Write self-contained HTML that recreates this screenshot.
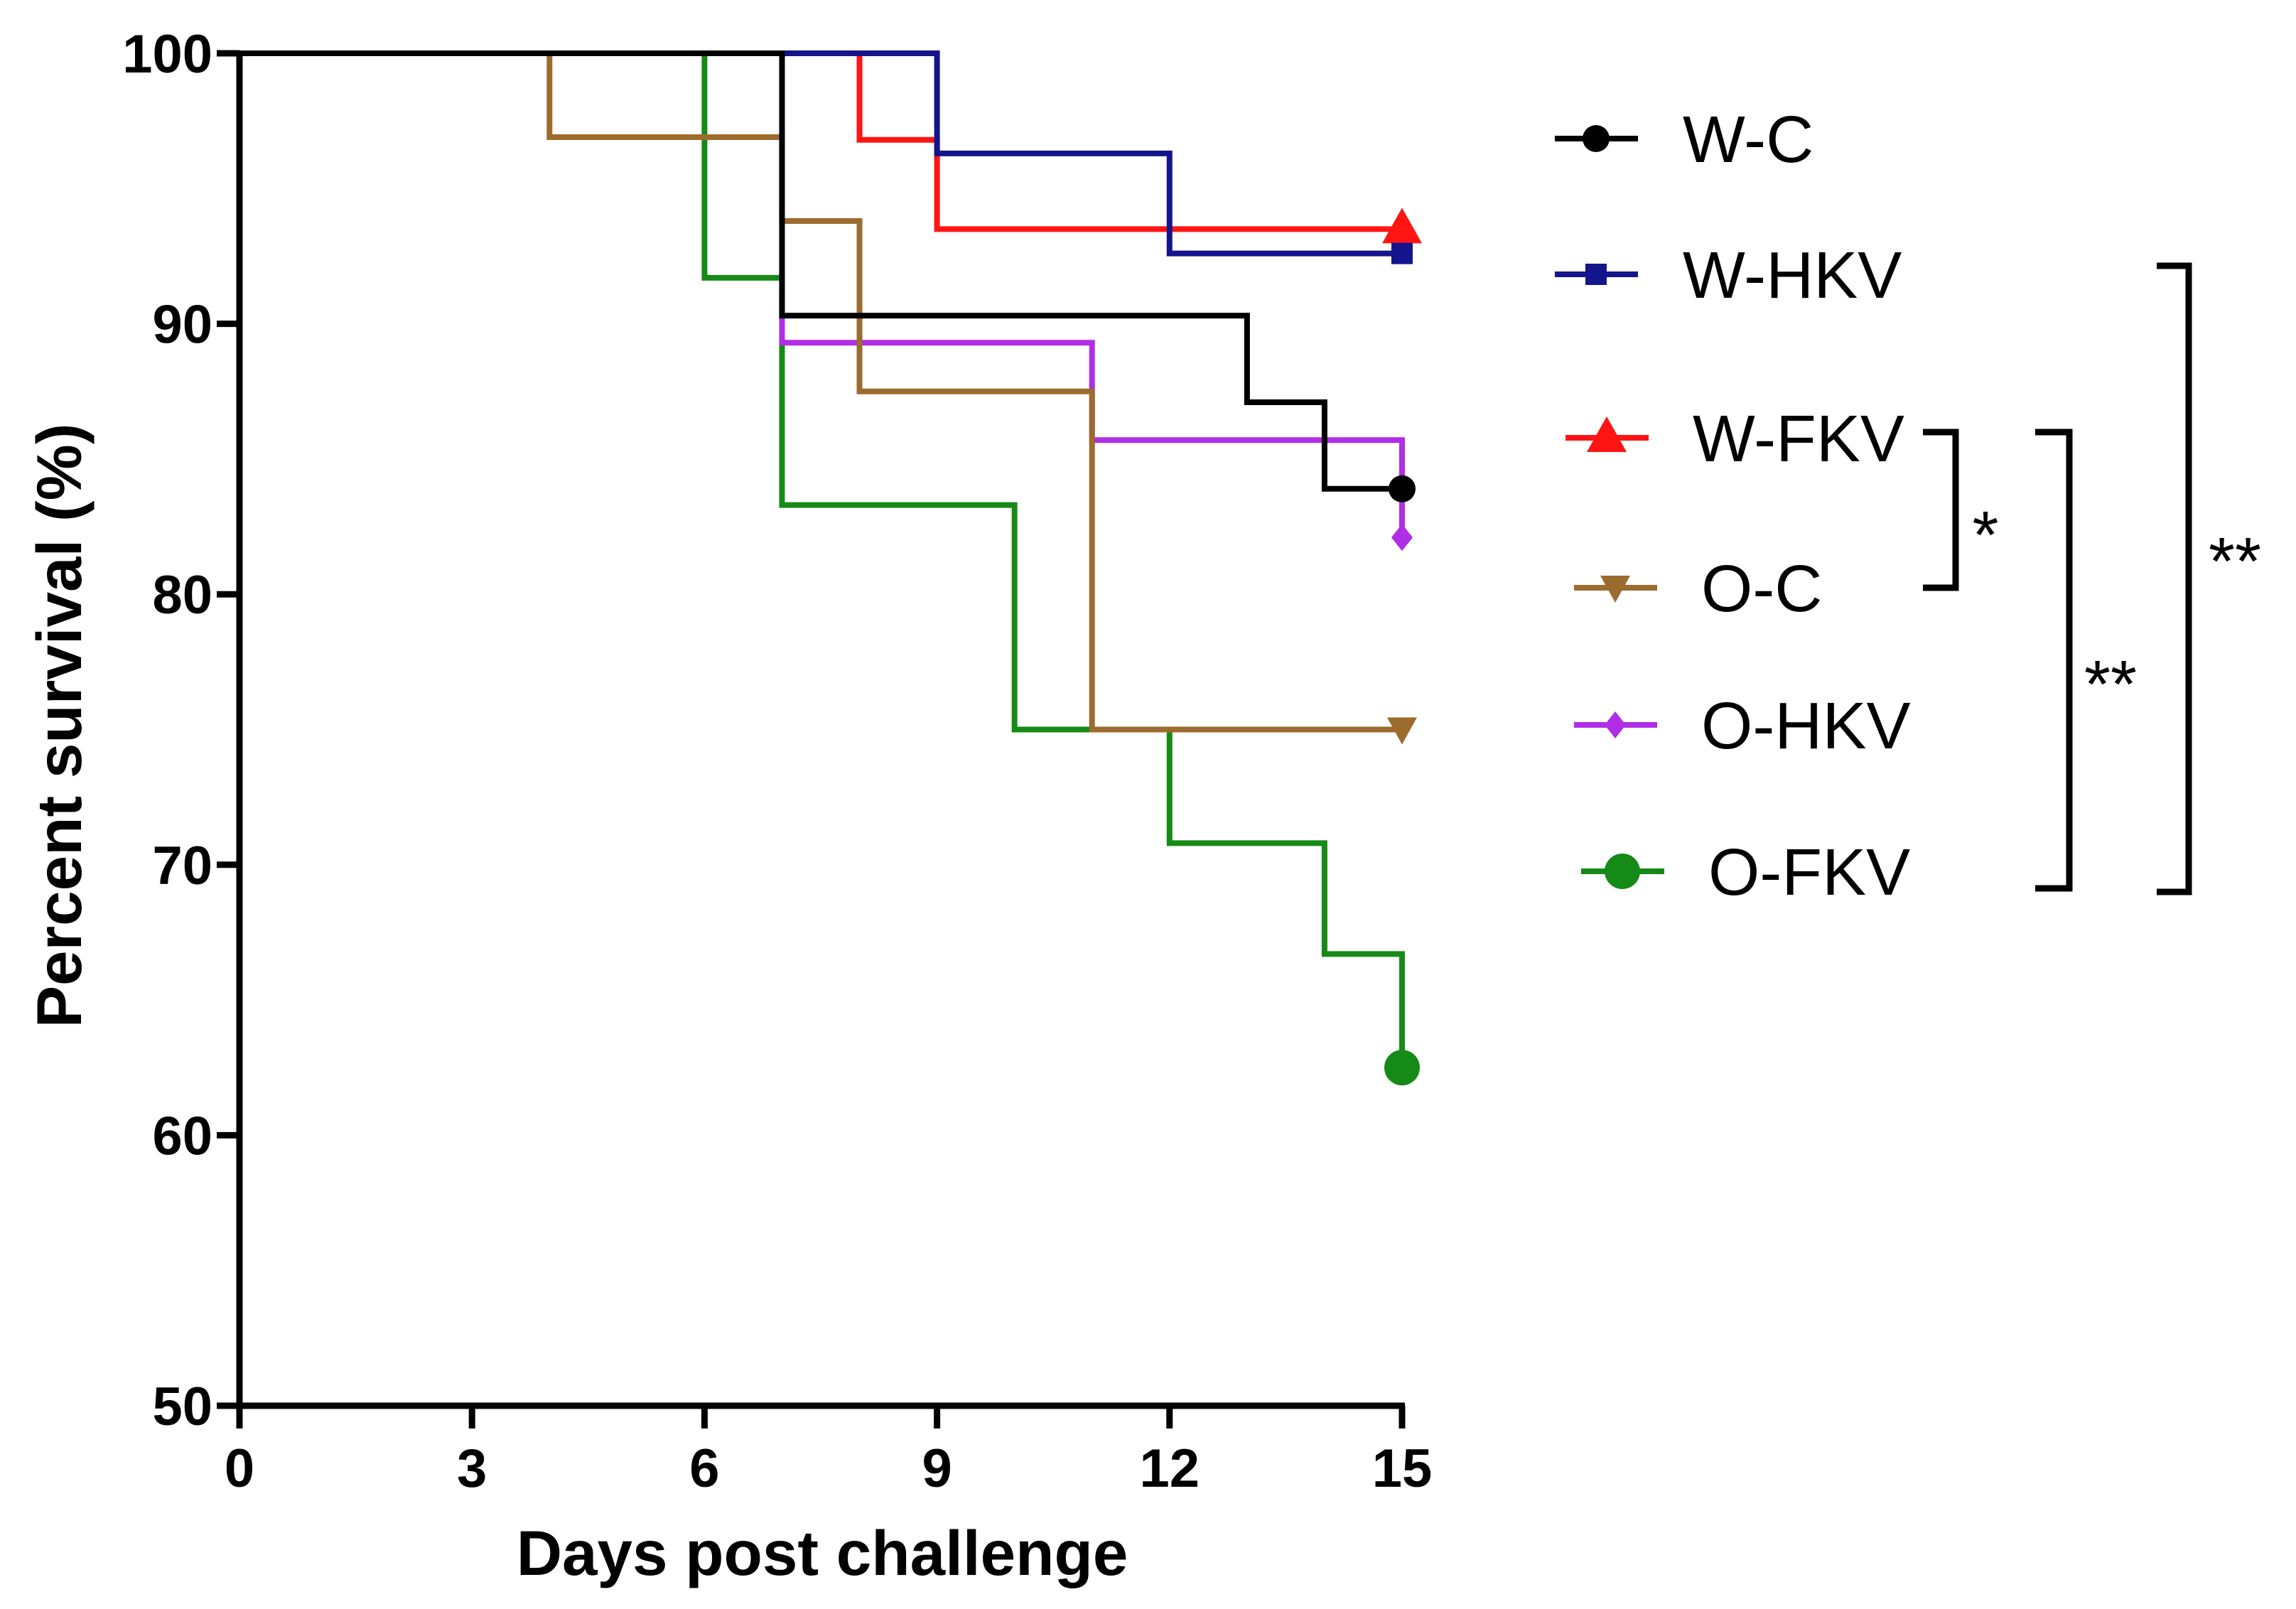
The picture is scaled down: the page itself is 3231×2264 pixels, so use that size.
<!DOCTYPE html>
<html><head><meta charset="utf-8"><style>
html,body{margin:0;padding:0;background:#fff;}
svg{display:block;}
text{font-family:"Liberation Sans",Arial,sans-serif;}
</style></head><body>
<svg id="chart" width="3231" height="2264" viewBox="0 0 3231 2264" xmlns="http://www.w3.org/2000/svg">
<g id="series"></g>
<g id="axes"></g>
<g id="legend"></g>
<g id="sig"></g>
</svg>
<script>
const xTicks = [0,3,6,9,12,15];
const yTicks = [50,60,70,80,90,100];
const seriesNames = ["W-C","W-HKV","W-FKV","O-C","O-HKV","O-FKV"];
const seriesColors = ["#000000","#14148c","#ff1414","#9c6b2e","#b02ee6","#168a16"];
const wcDays = [0,7,13,14,15];
const wcVals = [100,90.3,87.1,83.9,83.9];
const whkvDays = [0,9,12,15];
const whkvVals = [100,96.3,92.6,92.6];
const wfkvDays = [0,8,9,15];
const wfkvVals = [100,96.8,93.5,93.5];
const ocDays = [0,4,7,8,11,15];
const ocVals = [100,96.9,93.8,87.5,75,75];
const ohkvDays = [0,7,11,15];
const ohkvVals = [100,89.3,85.7,82.1];
const ofkvDays = [0,6,7,10,12,14,15];
const ofkvVals = [100,91.7,83.3,75,70.8,66.7,62.5];

const NS="http://www.w3.org/2000/svg";
const X0=337,X1=1973,Y0=1978,Y1=75;
const xS=d=>X0+(d-0)/(15-0)*(X1-X0);
const yS=v=>Y0-(v-50)/(100-50)*(Y0-Y1);
function mk(tag,attrs,parent){const e=document.createElementNS(NS,tag);for(const k in attrs)e.setAttribute(k,attrs[k]);parent.appendChild(e);return e;}

const sG=document.getElementById('series');
const allDays=[wcDays,whkvDays,wfkvDays,ocDays,ohkvDays,ofkvDays];
const allVals=[wcVals,whkvVals,wfkvVals,ocVals,ohkvVals,ofkvVals];
const markerTypes=["circle","square","triangle","tridown","diamond","bigcircle"];
function marker(type,cx,cy,color,parent){
  let e;
  if(type==="circle") e=mk('circle',{cx:cx,cy:cy,r:19,fill:color},parent);
  else if(type==="bigcircle") e=mk('circle',{cx:cx,cy:cy,r:25,fill:color},parent);
  else if(type==="square") e=mk('rect',{x:cx-15,y:cy-15,width:30,height:30,fill:color},parent);
  else if(type==="triangle") e=mk('polygon',{points:`${cx},${cy-30} ${cx+28},${cy+20} ${cx-28},${cy+20}`,fill:color},parent);
  else if(type==="tridown") e=mk('polygon',{points:`${cx-21},${cy-17} ${cx+21},${cy-17} ${cx},${cy+21}`,fill:color},parent);
  else e=mk('polygon',{points:`${cx},${cy-19} ${cx+15},${cy} ${cx},${cy+19} ${cx-15},${cy}`,fill:color},parent);
  return e;
}
const order=[5,4,3,2,1,0];
order.forEach(i=>{
  const d=allDays[i],v=allVals[i];
  let p=`M${xS(d[0])},${yS(v[0])}`;
  for(let k=1;k<d.length;k++){p+=` H${xS(d[k])} V${yS(v[k])}`;}
  const path=mk('path',{d:p,fill:'none',stroke:seriesColors[i],'stroke-width':8},sG);
  
  
});
order.forEach(i=>{
  const d=allDays[i],v=allVals[i];
  const m=marker(markerTypes[i],xS(d[d.length-1]),yS(v[v.length-1]),seriesColors[i],sG);
  
  
});

const aG=document.getElementById('axes');
const ya=mk('line',{x1:X0,y1:Y1-4,x2:X0,y2:Y0+4,stroke:'#000','stroke-width':9},aG);


const xa=mk('line',{x1:X0-4,y1:Y0,x2:X1+4,y2:Y0,stroke:'#000','stroke-width':9},aG);


yTicks.forEach(t=>{
  const l=mk('line',{x1:X0-32,y1:yS(t),x2:X0,y2:yS(t),stroke:'#000','stroke-width':9},aG);
  
  
  const tx=mk('text',{x:X0-38,y:yS(t)+27,'text-anchor':'end','font-size':76,'font-weight':'bold'},aG);
  tx.textContent=t;
  
  
});
xTicks.forEach(t=>{
  const l=mk('line',{x1:xS(t),y1:Y0,x2:xS(t),y2:Y0+32,stroke:'#000','stroke-width':9},aG);
  
  
  const tx=mk('text',{x:xS(t),y:Y0+114,'text-anchor':'middle','font-size':76,'font-weight':'bold'},aG);
  tx.textContent=t;
  
  
});
const xt=mk('text',{x:1157,y:2216,'text-anchor':'middle','font-size':89,'font-weight':'bold'},aG);
xt.textContent='Days post challenge';


const yt=mk('text',{x:0,y:0,'text-anchor':'middle','font-size':89,'font-weight':'bold',transform:'translate(114,1021) rotate(-90)'},aG);
yt.textContent='Percent survival (%)';



const lG=document.getElementById('legend');
const legY=[195,386,616,827,1020,1226];
const legLineX=[2188,2188,2203,2215,2215,2225];
const legTextX=[2368,2368,2382,2394,2394,2404];
seriesNames.forEach((n,i)=>{
  const g=mk('g',{},lG);
  
  
  mk('line',{x1:legLineX[i],y1:legY[i],x2:legLineX[i]+117,y2:legY[i],stroke:seriesColors[i],'stroke-width':8},g);
  marker(markerTypes[i],legLineX[i]+58,legY[i],seriesColors[i],g);
  const t=mk('text',{x:legTextX[i],y:legY[i]+33,'font-size':93},g);
  t.textContent=n;
});

const bG=document.getElementById('sig');
function bracket(x0,x1,yt,yb,label,lx,ly,name){
  const p=mk('path',{d:`M${x0},${yt} H${x1} V${yb} H${x0}`,fill:'none',stroke:'#000','stroke-width':9},bG);
  
  
  const t=mk('text',{x:lx,y:ly,'text-anchor':'middle','font-size':95},bG);
  t.textContent=label;
  
  
}
bracket(2706,2752,608,827,'*',2794,785,'bracket-wfkv-oc');
bracket(2864,2912,608,1250,'**',2970,995,'bracket-wfkv-ofkv');
bracket(3035,3080,374,1255,'**',3145,822,'bracket-whkv-ofkv');
</script>
</body></html>
